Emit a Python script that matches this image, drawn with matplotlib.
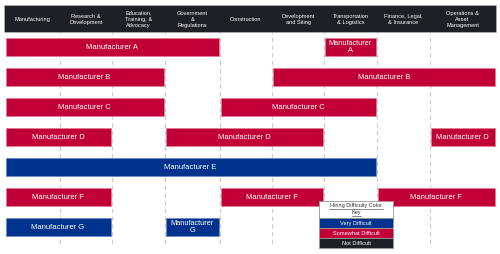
import matplotlib
matplotlib.use("Agg")
import matplotlib.pyplot as plt
from matplotlib.patches import Rectangle

plt.rcParams["font.family"] = ["Liberation Sans", "DejaVu Sans"]

# categories (columns) and their pixel edges
columns = ["Manufacturing", "Research &\nDevelopment", "Education,\nTraining, &\nAdvocacy",
           "Government\n&\nRegulations", "Construction", "Development\nand Siting",
           "Transportation\n& Logistics", "Finance, Legal,\n& Insurance",
           "Operations &\nAsset\nManagement"]
col_edges = [5, 60, 112, 165, 220, 272, 324, 377, 430, 495]

# rows of bars: (start column, end column, difficulty, label)
rows = ["Manufacturer A", "Manufacturer B", "Manufacturer C", "Manufacturer D",
        "Manufacturer E", "Manufacturer F", "Manufacturer G"]
spans = [
    [(0, 4, "S", "Manufacturer A"), (6, 7, "S", "Manufacturer\nA")],
    [(0, 3, "S", "Manufacturer B"), (5, 9, "S", "Manufacturer B")],
    [(0, 3, "S", "Manufacturer C"), (4, 7, "S", "Manufacturer C")],
    [(0, 2, "S", "Manufacturer D"), (3, 6, "S", "Manufacturer D"), (8, 9, "S", "Manufacturer D")],
    [(0, 7, "V", "Manufacturer E")],
    [(0, 2, "S", "Manufacturer F"), (4, 6, "S", "Manufacturer F"), (7, 9, "S", "Manufacturer F")],
    [(0, 2, "V", "Manufacturer G"), (3, 4, "V", "Manufacturer\nG")],
]

RED = "#c20038"
BLUE = "#00338d"
DARK = "#1e2023"
colors = {"V": BLUE, "S": RED, "N": DARK}
edges = {"V": "#6a86c4", "S": "#e37a95", "N": "#777777"}

fig = plt.figure(figsize=(5, 2.54), dpi=100)
ax = fig.add_axes([0, 0, 1, 1])
ax.set_xlim(0, 500)
ax.set_ylim(254, 0)
ax.axis("off")

DY = 1.0  # Liberation Sans sits a bit high with va="center"

# header
ax.add_patch(Rectangle((4, 5), 492, 27, facecolor=DARK, edgecolor="#bbbbbb", lw=0.4, zorder=1))
for i, name in enumerate(columns):
    cx = (col_edges[i] + col_edges[i + 1]) / 2
    ax.text(cx, 18.5 + DY * 0.6, name, color="white", fontsize=4.1, ha="center", va="center",
            linespacing=1.25, zorder=3)

# dashed dividers
for x in col_edges[1:-1]:
    ax.plot([x, x], [6, 247], color="#cccccc", lw=0.8, ls=(0, (4, 3)), zorder=0.5)

# bars
row_h = 30
bar_h = 18
top = 46.5
for i, segs in enumerate(spans):
    yc = top + i * row_h
    for c0, c1, d, lab in segs:
        x0 = col_edges[c0] + 0.5
        x1 = col_edges[c1] - 1.5 if c1 < 9 else col_edges[c1]
        ax.barh(yc, x1 - x0, left=x0, height=bar_h, color=colors[d],
                edgecolor=edges[d], lw=0.5, zorder=2)
        two = "\n" in lab
        ax.text((x0 + x1) / 2, yc + (0.6 if two else DY), lab, color="white",
                fontsize=5.3 if two else 5.5,
                ha="center", va="center", linespacing=1.05, zorder=3)

# legend key
key_labels = ["Very Difficult", "Somewhat Difficult", "Not Difficult"]
key_keys = ["V", "S", "N"]
lx0, lx1 = 319, 393
ly = 201
ax.add_patch(Rectangle((lx0, ly), lx1 - lx0, 17, facecolor="white", edgecolor="#999999",
                       lw=0.6, zorder=4))
ax.text((lx0 + lx1) / 2, ly + 4.8, "Hiring Difficulty Color", fontsize=4.0, color="#333333",
        ha="center", va="center", zorder=5)
ax.text((lx0 + lx1) / 2, ly + 11.8, "Key", fontsize=4.0, color="#333333",
        ha="center", va="center", zorder=5)
ax.plot([329, 383], [ly + 7.6, ly + 7.6], color="#333333", lw=0.4, zorder=5)
ax.plot([351.5, 360.5], [ly + 14.6, ly + 14.6], color="#333333", lw=0.4, zorder=5)
for j, (lab, k) in enumerate(zip(key_labels, key_keys)):
    y0 = ly + 17 + j * 10
    ax.add_patch(Rectangle((lx0, y0), lx1 - lx0, 10, facecolor=colors[k], edgecolor="#999999",
                           lw=0.6, zorder=4))
    ax.text((lx0 + lx1) / 2, y0 + 5.6, lab, fontsize=4.1, color="white",
            ha="center", va="center", zorder=5)

fig.savefig("out.png", dpi=100)
